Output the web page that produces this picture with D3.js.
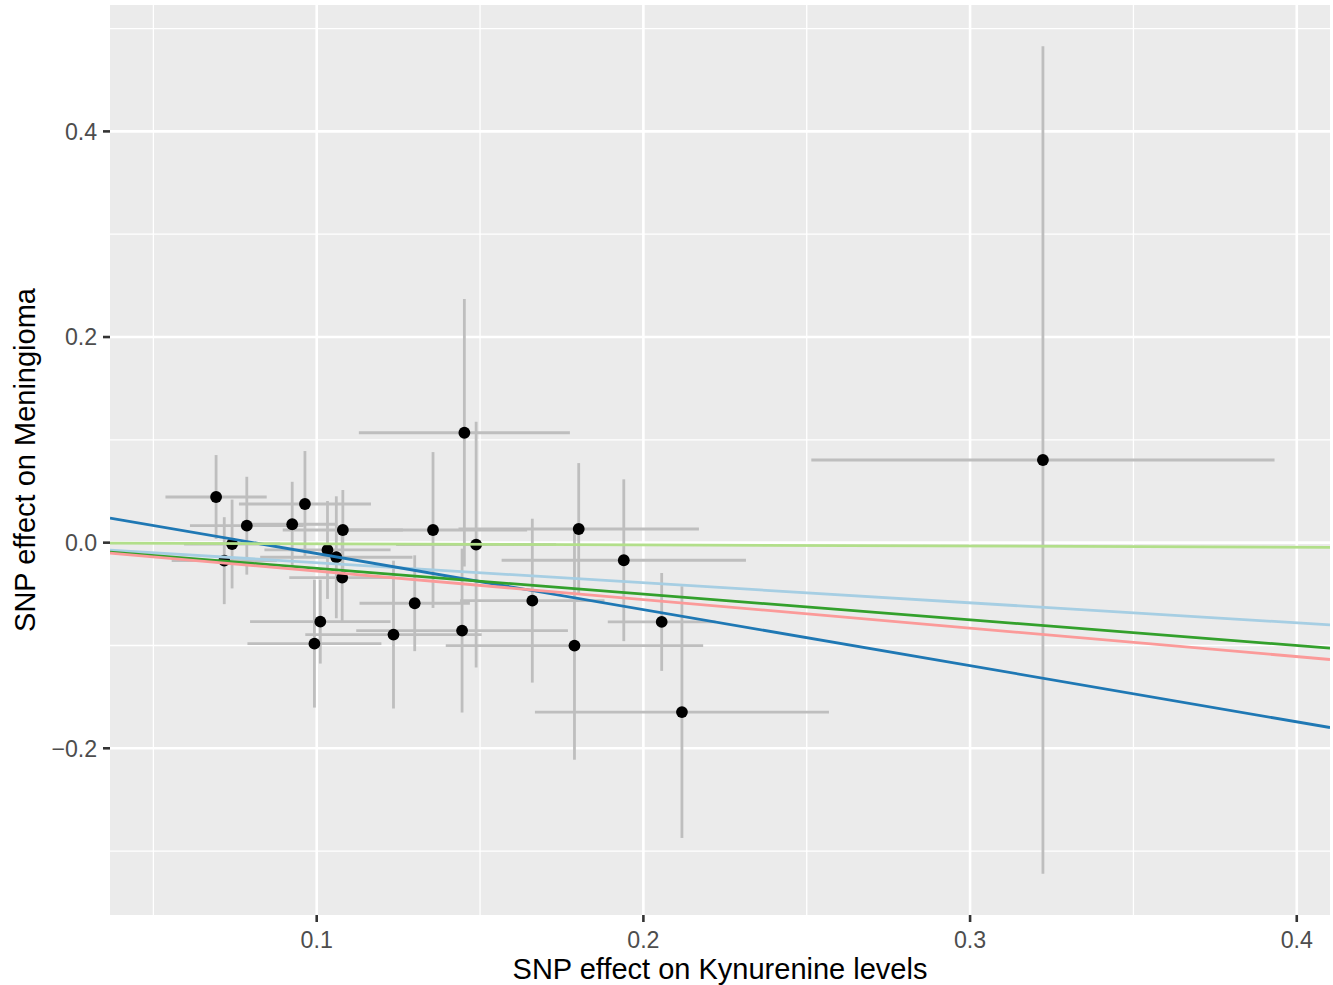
<!DOCTYPE html>
<html>
<head>
<meta charset="utf-8">
<script src="https://cdn.jsdelivr.net/npm/d3@7"></script>
<style>
  html, body { margin: 0; padding: 0; background: #ffffff; }
  svg { display: block; }
  text { font-family: "Liberation Sans", Arial, Helvetica, sans-serif; }
</style>
</head>
<body>
<script>
// ---- data ----
const betaExposure = [0.0692, 0.0717, 0.0741, 0.0786, 0.0925, 0.0964, 0.1033, 0.1060, 0.1080, 0.1078,
  0.1011, 0.0993, 0.1235, 0.1300, 0.1356, 0.1452, 0.1445, 0.1488, 0.1660, 0.1802,
  0.1940, 0.1789, 0.2056, 0.2118, 0.3223];
const betaOutcome = [0.0444, -0.0175, -0.0013, 0.0165, 0.0179, 0.0376, -0.0071, -0.0142, 0.0123, -0.0340,
  -0.0768, -0.0982, -0.0894, -0.0589, 0.0123, 0.1069, -0.0855, -0.0019, -0.0564, 0.0133,
  -0.0171, -0.1001, -0.0771, -0.1648, 0.0804];
const seExposure = [0.0155, 0.0161, 0.0147, 0.0174, 0.0138, 0.0202, 0.0193, 0.0233, 0.0184, 0.0162,
  0.0215, 0.0205, 0.0270, 0.0169, 0.0288, 0.0323, 0.0324, 0.0245, 0.0221, 0.0368,
  0.0374, 0.0394, 0.0165, 0.0450, 0.0709];
const seOutcome = [0.0408, 0.0423, 0.0432, 0.0476, 0.0413, 0.0515, 0.0476, 0.0593, 0.0389, 0.0428,
  0.0408, 0.0622, 0.0719, 0.0466, 0.0758, 0.1302, 0.0797, 0.1195, 0.0797, 0.0641,
  0.0787, 0.1110, 0.0476, 0.1224, 0.4023];

const methods = ["Inverse variance weighted", "MR Egger", "Simple mode", "Weighted median", "Weighted mode"];
const methodSlopes = [-0.195, -0.5456, -0.011, -0.250, -0.277];
const methodIntercepts = [0, 0.044, 0, 0, 0];
const methodColors = ["#a6cee3", "#1f78b4", "#b2df8a", "#33a02c", "#fb9a99"];

const xTicks = [0.1, 0.2, 0.3, 0.4];
const xTickLabels = ["0.1", "0.2", "0.3", "0.4"];
const xMinor = [0.05, 0.15, 0.25, 0.35];
const yTicks = [-0.2, 0.0, 0.2, 0.4];
const yTickLabels = ["\u22120.2", "0.0", "0.2", "0.4"];
const yMinor = [-0.3, -0.1, 0.1, 0.3, 0.5];

const xTitle = "SNP effect on Kynurenine levels";
const yTitle = "SNP effect on Meningioma";

// ---- layout ----
const W = 1333, H = 985;
const panel = { left: 110, right: 1330, top: 5, bottom: 915 };

const pts = betaExposure.map((x, i) => ({ x, y: betaOutcome[i], sx: seExposure[i], sy: seOutcome[i] }));

function expand(lo, hi) { const d = (hi - lo) * 0.05; return [lo - d, hi + d]; }
const xDom = expand(d3.min(pts, d => d.x - d.sx), d3.max(pts, d => d.x + d.sx));
const yDom = expand(d3.min(pts, d => d.y - d.sy), d3.max(pts, d => d.y + d.sy));

const x = d3.scaleLinear().domain(xDom).range([panel.left, panel.right]);
const y = d3.scaleLinear().domain(yDom).range([panel.bottom, panel.top]);

const svg = d3.select("body").append("svg").attr("width", W).attr("height", H);
svg.append("rect").attr("width", W).attr("height", H).attr("fill", "#ffffff");

svg.append("defs").append("clipPath").attr("id", "clip")
  .append("rect").attr("x", panel.left).attr("y", panel.top)
  .attr("width", panel.right - panel.left).attr("height", panel.bottom - panel.top);

// panel background
svg.append("rect").attr("x", panel.left).attr("y", panel.top)
  .attr("width", panel.right - panel.left).attr("height", panel.bottom - panel.top)
  .attr("fill", "#ebebeb");

const grid = svg.append("g").attr("clip-path", "url(#clip)");
// minor grid
grid.selectAll(".xmin").data(xMinor).join("line")
  .attr("x1", d => x(d)).attr("x2", d => x(d)).attr("y1", panel.top).attr("y2", panel.bottom)
  .attr("stroke", "#ffffff").attr("stroke-width", 1.3);
grid.selectAll(".ymin").data(yMinor).join("line")
  .attr("y1", d => y(d)).attr("y2", d => y(d)).attr("x1", panel.left).attr("x2", panel.right)
  .attr("stroke", "#ffffff").attr("stroke-width", 1.3);
// major grid
grid.selectAll(".xmaj").data(xTicks).join("line")
  .attr("x1", d => x(d)).attr("x2", d => x(d)).attr("y1", panel.top).attr("y2", panel.bottom)
  .attr("stroke", "#ffffff").attr("stroke-width", 2.6);
grid.selectAll(".ymaj").data(yTicks).join("line")
  .attr("y1", d => y(d)).attr("y2", d => y(d)).attr("x1", panel.left).attr("x2", panel.right)
  .attr("stroke", "#ffffff").attr("stroke-width", 2.6);

const plot = svg.append("g").attr("clip-path", "url(#clip)");
// vertical error bars
plot.selectAll(".ev").data(pts).join("line")
  .attr("x1", d => x(d.x)).attr("x2", d => x(d.x))
  .attr("y1", d => y(d.y - d.sy)).attr("y2", d => y(d.y + d.sy))
  .attr("stroke", "#bebebe").attr("stroke-width", 2.8);
// horizontal error bars
plot.selectAll(".eh").data(pts).join("line")
  .attr("y1", d => y(d.y)).attr("y2", d => y(d.y))
  .attr("x1", d => x(d.x - d.sx)).attr("x2", d => x(d.x + d.sx))
  .attr("stroke", "#bebebe").attr("stroke-width", 2.8);
// points
plot.selectAll(".pt").data(pts).join("circle")
  .attr("cx", d => x(d.x)).attr("cy", d => y(d.y)).attr("r", 5.9)
  .attr("fill", "#000000");
// method lines
const lines = methods.map((m, i) => ({ m, b: methodSlopes[i], a: methodIntercepts[i], c: methodColors[i] }));
plot.selectAll(".ab").data(lines).join("line")
  .attr("x1", x(xDom[0])).attr("x2", x(xDom[1]))
  .attr("y1", d => y(d.a + d.b * xDom[0])).attr("y2", d => y(d.a + d.b * xDom[1]))
  .attr("stroke", d => d.c).attr("stroke-width", 2.8);

// axes
const tickLen = 7;
const xAx = svg.append("g");
xAx.selectAll("line").data(xTicks).join("line")
  .attr("x1", d => x(d)).attr("x2", d => x(d)).attr("y1", panel.bottom).attr("y2", panel.bottom + tickLen)
  .attr("stroke", "#333333").attr("stroke-width", 2.6);
xAx.selectAll("text").data(xTicks).join("text")
  .attr("x", d => x(d)).attr("y", panel.bottom + 33)
  .attr("text-anchor", "middle").attr("font-size", 23.2).attr("fill", "#4d4d4d")
  .text((d, i) => xTickLabels[i]);

const yAx = svg.append("g");
yAx.selectAll("line").data(yTicks).join("line")
  .attr("y1", d => y(d)).attr("y2", d => y(d)).attr("x1", panel.left - tickLen).attr("x2", panel.left)
  .attr("stroke", "#333333").attr("stroke-width", 2.6);
yAx.selectAll("text").data(yTicks).join("text")
  .attr("x", panel.left - tickLen - 5.8).attr("y", d => y(d) + 8.3)
  .attr("text-anchor", "end").attr("font-size", 23.2).attr("fill", "#4d4d4d")
  .text((d, i) => yTickLabels[i]);

// titles
svg.append("text").attr("x", (panel.left + panel.right) / 2).attr("y", 979)
  .attr("text-anchor", "middle").attr("font-size", 29).attr("fill", "#000000").text(xTitle);
svg.append("text")
  .attr("transform", `translate(35,${(panel.top + panel.bottom) / 2}) rotate(-90)`)
  .attr("text-anchor", "middle").attr("font-size", 29).attr("fill", "#000000").text(yTitle);
</script>
</body>
</html>
